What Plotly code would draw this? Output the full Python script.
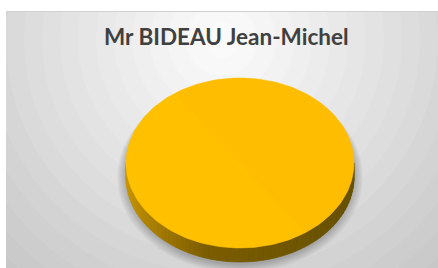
import numpy as np
import plotly.graph_objects as go

# ---- data ----
labels = ["Mr BIDEAU Jean-Michel"]
values = [100]
slice_colors = ["#FFC000"]
title_text = "Mr BIDEAU Jean-Michel"

# ---- geometry / style ----
W, H = 438, 268
L, T = 6, 11
cx, cy, rx, ry, depth = 240, 163, 114, 85, 14


def hex2rgb(h):
    h = h.lstrip("#")
    return np.array([int(h[i:i + 2], 16) for i in (0, 2, 4)], dtype=float)


def rgb(c):
    c = np.clip(np.round(c), 0, 255).astype(int)
    return f"rgb({c[0]},{c[1]},{c[2]})"


def ell(theta, dy=0.0):
    return cx + rx * np.sin(theta), cy - ry * np.cos(theta) + dy


fig = go.Figure()
shapes = []

# radial background (banded, like the reference)
gx, gy = 222, 40
for r in range(360, 0, -18):
    g = 250 - 0.17 * max(r - 25, 0)
    shapes.append(dict(type="circle", xref="x", yref="y", layer="below",
                       x0=gx - r, x1=gx + r, y0=gy - r, y1=gy + r,
                       fillcolor=rgb(np.array([g, g, g])), line_width=0))

# soft shadow under the pie
for k in range(10, 0, -1):
    shapes.append(dict(type="circle", xref="x", yref="y", layer="below",
                       x0=cx - rx - k * 0.9, x1=cx + rx + k * 0.9,
                       y0=cy - ry + 6 - k * 0.3, y1=cy + ry + depth + 2 + k * 0.9,
                       fillcolor="rgba(0,0,0,0.022)", line_width=0))

total = float(sum(values))
start = 0.0
light = hex2rgb("#C89600")
mid = hex2rgb("#7C5D00")
dark = hex2rgb("#665000")

for v, col in zip(values, slice_colors):
    a0 = start
    a1 = start + 2 * np.pi * v / total
    start = a1
    # side (front visible part: angles between pi/2 and 3pi/2)
    lo, hi = max(a0, np.pi / 2), min(a1, 3 * np.pi / 2)
    if hi > lo:
        edges = np.linspace(lo, hi, 72)
        for ta, tb in zip(edges[:-1], edges[1:]):
            xa, ya = ell(ta)
            xb, yb = ell(tb)
            t = ((xa + xb) / 2 - (cx - rx)) / (2 * rx)
            if t < 0.35:
                c = light + (mid - light) * (t / 0.35) ** 0.8
            else:
                c = mid + (dark - mid) * ((t - 0.35) / 0.65)
            c = rgb(c)
            fig.add_trace(go.Scatter(
                x=[xa, xb, xb, xa, xa], y=[ya, yb, yb + depth, ya + depth, ya],
                mode="lines", fill="toself", fillcolor=c,
                line=dict(color=c, width=0.8), hoverinfo="skip", showlegend=False))
    # top face
    th = np.linspace(a0, a1, 240)
    xs, ys = ell(th)
    fig.add_trace(go.Scatter(
        x=np.r_[cx, xs, cx], y=np.r_[cy, ys, cy], mode="lines", fill="toself",
        fillcolor=col, line=dict(color=col, width=0.5),
        hoverinfo="skip", showlegend=False, name=labels[0]))

# subtle lighting on the upper-right half of the top face
th = np.linspace(np.radians(-35), np.radians(145), 200)
xs, ys = ell(th)
fig.add_trace(go.Scatter(
    x=np.r_[xs, xs[0]], y=np.r_[ys, ys[0]], mode="lines", fill="toself",
    fillcolor="rgba(250,180,0,0.25)", line=dict(width=0),
    hoverinfo="skip", showlegend=False))

# top border line of chart area
shapes.append(dict(type="line", xref="x", yref="y", x0=L, x1=W, y0=T + 0.5, y1=T + 0.5,
                   line=dict(color="#d0d0d0", width=1)))

fig.update_layout(
    width=W, height=H, margin=dict(l=L, r=0, t=T, b=0, pad=0),
    paper_bgcolor="white", plot_bgcolor="white",
    xaxis=dict(range=[L, W], visible=False, fixedrange=True),
    yaxis=dict(range=[H, T], visible=False, fixedrange=True),
    shapes=shapes,
    annotations=[dict(text=f"<b>{title_text}</b>", x=226, y=36, xref="x", yref="y",
                      showarrow=False, xanchor="center", yanchor="middle",
                      font=dict(family="Lato", size=22.5, color="#404040"))],
)

fig.write_html("out.html", config={"displayModeBar": False},
               post_script="document.body.style.margin='0';document.body.style.overflow='hidden';")
